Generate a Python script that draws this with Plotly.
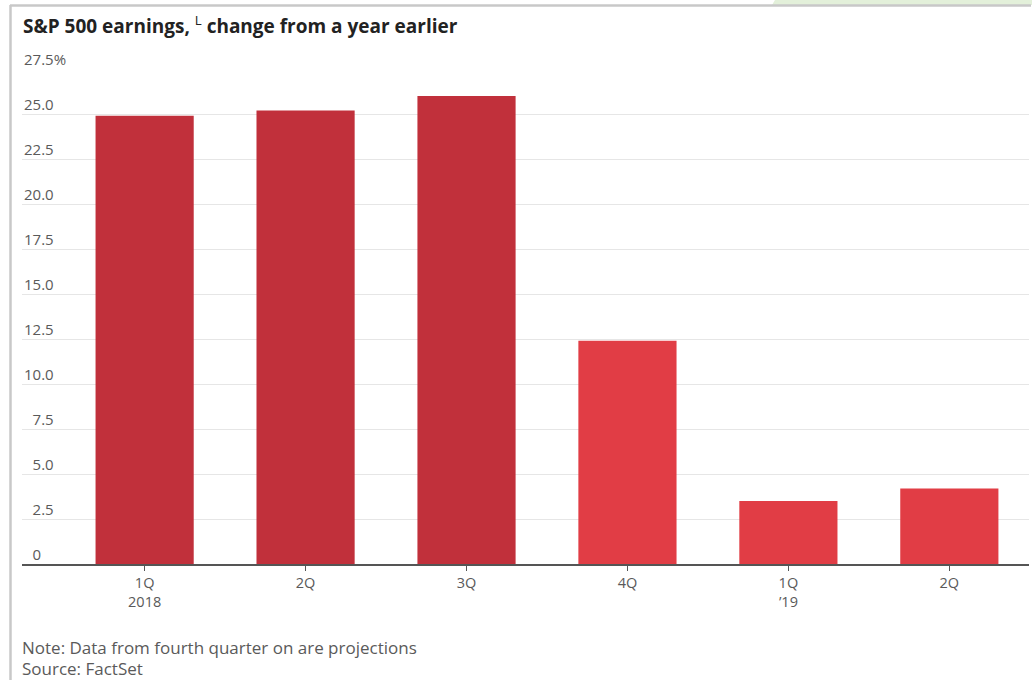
import plotly.graph_objects as go

# Quarterly S&P 500 earnings growth, % change from a year earlier
quarters = ["1Q<br>2018", "2Q", "3Q", "4Q", "1Q<br>’19", "2Q"]
growth = [24.9, 25.2, 26.0, 12.4, 3.5, 4.2]
is_projection = [False, False, False, True, True, True]

y_ticks = [0, 2.5, 5.0, 7.5, 10.0, 12.5, 15.0, 17.5, 20.0, 22.5, 25.0, 27.5]
y_tick_text = ["0", "2.5", "5.0", "7.5", "10.0", "12.5", "15.0", "17.5",
               "20.0", "22.5", "25.0", "27.5%"]

ACTUAL = "#c1303b"
PROJECTED = "#e13d45"
FONT = "Open Sans"
GREY = "#5a5a5a"

x_pos = list(range(len(quarters)))
colors = [PROJECTED if p else ACTUAL for p in is_projection]

fig = go.Figure(go.Bar(
    x=x_pos,
    y=growth,
    marker=dict(color=colors, line=dict(width=0)),
    width=0.61,
    hoverinfo="skip",
))

W, H = 1032, 680
L, R, T, B = 22, 3, 69, 116
fig.update_layout(
    width=W, height=H,
    margin=dict(l=L, r=R, t=T, b=B),
    paper_bgcolor="white",
    plot_bgcolor="white",
    showlegend=False,
    font=dict(family=FONT, color=GREY),
    xaxis=dict(
        range=[-0.762, 5.495],
        tickmode="array",
        tickvals=x_pos,
        ticktext=quarters,
        ticks="outside",
        ticklen=5,
        tickwidth=1,
        tickcolor="#555555",
        tickfont=dict(family=FONT, size=14.5, color=GREY),
        showline=True,
        linecolor="#555555",
        linewidth=1.5,
        showgrid=False,
        zeroline=False,
        fixedrange=True,
    ),
    yaxis=dict(
        range=[0, 27.5],
        tickmode="array",
        tickvals=y_ticks,
        showticklabels=False,
        showgrid=True,
        gridcolor="#e6e6e6",
        gridwidth=1,
        zeroline=False,
        fixedrange=True,
    ),
)

# y tick labels sit above their gridlines, digits aligned by figure space
for v, t in zip(y_ticks, y_tick_text):
    label = t if v >= 10 else "\u2007" + t
    fig.add_annotation(
        x=0, xref="paper", xanchor="left",
        y=v, yref="y", yanchor="bottom",
        yshift=-2,
        text=label, showarrow=False,
        font=dict(family=FONT, size=15, color=GREY),
    )

px_w = W - L - R
px_h = H - T - B


def paper_x(px):
    return (px - L) / px_w


def paper_y(py):
    return (H - py - B) / px_h


# Title
fig.add_annotation(
    x=paper_x(21), xref="paper", y=paper_y(25), yref="paper",
    text="<b>S&P 500 earnings,</b> <sup>L</sup> <b>change from a year earlier</b>",
    showarrow=False, xanchor="left", yanchor="middle",
    font=dict(family=FONT, size=19, color="#222222"),
)

# Footnotes
fig.add_annotation(
    x=paper_x(21), xref="paper", y=paper_y(647), yref="paper",
    text="Note: Data from fourth quarter on are projections",
    showarrow=False, xanchor="left", yanchor="middle", borderpad=0,
    font=dict(family=FONT, size=17, color=GREY),
)
fig.add_annotation(
    x=paper_x(21), xref="paper", y=paper_y(668), yref="paper",
    text="Source: FactSet",
    showarrow=False, xanchor="left", yanchor="middle", borderpad=0,
    font=dict(family=FONT, size=17, color=GREY),
)

# Card frame: grey left and top edges, green tab at top right
fig.add_shape(type="path", xref="paper", yref="paper",
              path=f"M {paper_x(772)},{paper_y(5)} L {paper_x(775)},{paper_y(0)} "
                   f"L {paper_x(1032)},{paper_y(0)} L {paper_x(1032)},{paper_y(5)} Z",
              fillcolor="#e3f0da", line=dict(width=0), layer="below")
fig.add_shape(type="line", xref="paper", yref="paper",
              x0=paper_x(10), x1=paper_x(1031), y0=paper_y(5.5), y1=paper_y(5.5),
              line=dict(color="#c8c8c8", width=2.5))
fig.add_shape(type="line", xref="paper", yref="paper",
              x0=paper_x(10.5), x1=paper_x(10.5), y0=paper_y(5), y1=paper_y(680),
              line=dict(color="#c8c8c8", width=2.5))

fig.write_html("out.html")
